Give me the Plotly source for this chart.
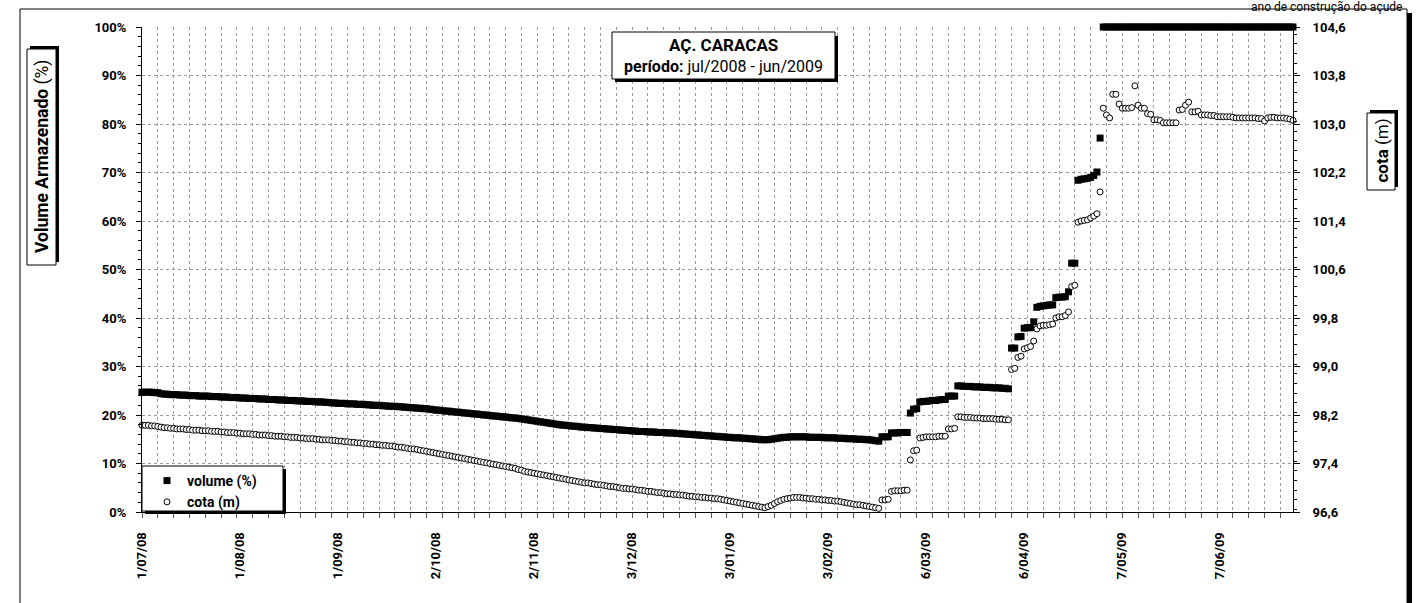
import pandas as pd
import plotly.graph_objects as go

# ── Data (one value per day) ─────────────────────────────────────────────────

dates = pd.date_range("2008-07-01", "2009-06-30", freq="D")

volume_pct = [
    # jul/08
    24.7, 24.7, 24.7, 24.7, 24.6, 24.6, 24.4, 24.3, 24.3, 24.2, 24.2, 24.2, 24.1, 24.1, 24.1, 24.0,
    24.0, 24.0, 23.9, 23.9, 23.9, 23.9, 23.8, 23.8, 23.8, 23.7, 23.7, 23.7, 23.6, 23.6, 23.6,
    # aug/08
    23.5, 23.5, 23.5, 23.4, 23.4, 23.4, 23.3, 23.3, 23.3, 23.2, 23.2, 23.2, 23.1, 23.1, 23.1, 23.0,
    23.0, 23.0, 22.9, 22.9, 22.9, 22.8, 22.8, 22.8, 22.7, 22.7, 22.7, 22.6, 22.6, 22.5, 22.5,
    # sep/08
    22.4, 22.4, 22.4, 22.3, 22.3, 22.3, 22.2, 22.2, 22.2, 22.1, 22.1, 22.0, 22.0, 22.0, 21.9,
    21.9, 21.8, 21.8, 21.8, 21.7, 21.7, 21.6, 21.6, 21.5, 21.5, 21.4, 21.4, 21.3, 21.3, 21.2,
    # oct/08
    21.1, 21.0, 21.0, 20.9, 20.8, 20.8, 20.7, 20.6, 20.6, 20.5, 20.4, 20.4, 20.3, 20.2, 20.2, 20.1,
    20.0, 20.0, 19.9, 19.8, 19.8, 19.7, 19.6, 19.6, 19.5, 19.4, 19.4, 19.3, 19.2, 19.1, 19.0,
    # nov/08
    18.9, 18.8, 18.7, 18.6, 18.5, 18.4, 18.3, 18.2, 18.1, 18.0, 17.9, 17.9, 17.8, 17.7, 17.7,
    17.6, 17.5, 17.5, 17.4, 17.4, 17.3, 17.3, 17.2, 17.2, 17.1, 17.1, 17.0, 17.0, 16.9, 16.9,
    # dec/08
    16.8, 16.8, 16.7, 16.7, 16.6, 16.6, 16.6, 16.5, 16.5, 16.5, 16.4, 16.4, 16.4, 16.3, 16.3, 16.3,
    16.2, 16.2, 16.1, 16.1, 16.0, 16.0, 15.9, 15.9, 15.8, 15.8, 15.7, 15.7, 15.6, 15.6, 15.5,
    # jan/09
    15.5, 15.4, 15.4, 15.3, 15.3, 15.3, 15.2, 15.2, 15.1, 15.1, 15.0, 15.0, 14.9, 14.9, 14.9, 15.0,
    15.1, 15.2, 15.3, 15.4, 15.4, 15.5, 15.5, 15.5, 15.5, 15.5, 15.5, 15.4, 15.4, 15.4, 15.4,
    # feb/09
    15.4, 15.3, 15.3, 15.3, 15.3, 15.2, 15.2, 15.2, 15.1, 15.1, 15.1, 15.0, 15.0, 15.0,
    14.9, 14.9, 14.8, 14.7, 14.6, 15.5, 15.5, 15.5, 16.3, 16.3, 16.3, 16.4, 16.4, 16.4,
    # mar/09
    20.4, 21.2, 21.3, 22.7, 22.8, 22.8, 22.9, 23.0, 23.0, 23.1, 23.2, 23.2, 23.9, 23.9, 23.9, 26.0,
    26.0, 25.9, 25.9, 25.9, 25.8, 25.8, 25.8, 25.7, 25.7, 25.7, 25.6, 25.6, 25.6, 25.5, 25.5,
    # apr/09
    25.4, 33.8, 33.8, 36.1, 36.2, 37.9, 38.0, 38.0, 39.2, 42.2, 42.4, 42.5, 42.6, 42.7, 42.7,
    44.2, 44.3, 44.3, 44.4, 45.4, 51.3, 51.3, 68.4, 68.6, 68.7, 68.8, 69.0, 69.4, 70.1, 77.1,
    # may/09
    100.0, 100.0, 100.0, 100.0, 100.0, 100.0, 100.0, 100.0, 100.0, 100.0, 100.0, 100.0, 100.0,
    100.0, 100.0, 100.0, 100.0, 100.0, 100.0, 100.0, 100.0, 100.0, 100.0, 100.0, 100.0, 100.0,
    100.0, 100.0, 100.0, 100.0, 100.0,
    # jun/09
    100.0, 100.0, 100.0, 100.0, 100.0, 100.0, 100.0, 100.0, 100.0, 100.0, 100.0, 100.0, 100.0,
    100.0, 100.0, 100.0, 100.0, 100.0, 100.0, 100.0, 100.0, 100.0, 100.0, 100.0, 100.0, 100.0,
    100.0, 100.0, 100.0, 100.0,
]

cota_m = [
    # jul/08
    98.03, 98.03, 98.03, 98.02, 98.02, 98.01, 98.00, 97.99, 97.99, 97.98, 97.98, 97.97, 97.97,
    97.97, 97.96, 97.96, 97.95, 97.95, 97.95, 97.94, 97.94, 97.94, 97.93, 97.93, 97.93, 97.92,
    97.92, 97.91, 97.91, 97.91, 97.90,
    # aug/08
    97.90, 97.89, 97.89, 97.89, 97.88, 97.88, 97.87, 97.87, 97.87, 97.86, 97.86, 97.85, 97.85,
    97.85, 97.84, 97.84, 97.83, 97.83, 97.83, 97.82, 97.82, 97.81, 97.81, 97.81, 97.80, 97.80,
    97.79, 97.79, 97.79, 97.78, 97.78,
    # sep/08
    97.77, 97.77, 97.76, 97.76, 97.75, 97.75, 97.74, 97.74, 97.73, 97.73, 97.72, 97.72, 97.71,
    97.71, 97.70, 97.70, 97.69, 97.69, 97.68, 97.67, 97.67, 97.66, 97.65, 97.64, 97.64, 97.63,
    97.62, 97.61, 97.60, 97.59,
    # oct/08
    97.58, 97.57, 97.56, 97.55, 97.54, 97.53, 97.52, 97.51, 97.50, 97.49, 97.48, 97.47, 97.46,
    97.45, 97.44, 97.43, 97.42, 97.41, 97.40, 97.39, 97.38, 97.37, 97.36, 97.35, 97.34, 97.33,
    97.32, 97.30, 97.29, 97.27, 97.26,
    # nov/08
    97.25, 97.24, 97.23, 97.22, 97.21, 97.20, 97.19, 97.18, 97.17, 97.16, 97.15, 97.14, 97.13,
    97.12, 97.11, 97.10, 97.09, 97.08, 97.08, 97.07, 97.06, 97.05, 97.05, 97.04, 97.03, 97.02,
    97.02, 97.01, 97.00, 96.99,
    # dec/08
    96.99, 96.98, 96.98, 96.97, 96.96, 96.96, 96.95, 96.94, 96.94, 96.93, 96.92, 96.92, 96.91,
    96.90, 96.90, 96.89, 96.89, 96.88, 96.88, 96.87, 96.86, 96.86, 96.85, 96.85, 96.84, 96.84,
    96.83, 96.83, 96.82, 96.82, 96.81,
    # jan/09
    96.80, 96.79, 96.78, 96.77, 96.76, 96.75, 96.74, 96.73, 96.72, 96.71, 96.70, 96.69, 96.68,
    96.67, 96.69, 96.71, 96.74, 96.77, 96.79, 96.81, 96.82, 96.83, 96.84, 96.84, 96.84, 96.83,
    96.83, 96.82, 96.82, 96.81, 96.81,
    # feb/09
    96.80, 96.80, 96.79, 96.79, 96.78, 96.78, 96.77, 96.76, 96.75, 96.74, 96.73, 96.72, 96.72,
    96.71, 96.70, 96.69, 96.68, 96.67, 96.66, 96.80, 96.80, 96.81, 96.94, 96.95, 96.95, 96.95,
    96.96, 96.96,
    # mar/09
    97.46, 97.61, 97.62, 97.82, 97.83, 97.84, 97.84, 97.84, 97.84, 97.85, 97.85, 97.85, 97.97,
    97.97, 97.98, 98.17, 98.17, 98.16, 98.16, 98.16, 98.15, 98.15, 98.15, 98.14, 98.14, 98.14,
    98.14, 98.13, 98.13, 98.13, 98.12,
    # apr/09
    98.12, 98.95, 98.97, 99.15, 99.17, 99.29, 99.31, 99.33, 99.42, 99.62, 99.67, 99.68, 99.68,
    99.69, 99.70, 99.80, 99.82, 99.82, 99.84, 99.90, 100.32, 100.34, 101.38, 101.40, 101.41,
    101.42, 101.45, 101.48, 101.52, 101.88,
    # may/09
    103.26, 103.15, 103.10, 103.49, 103.49, 103.33, 103.26, 103.26, 103.26, 103.27, 103.63,
    103.31, 103.26, 103.26, 103.17, 103.16, 103.07, 103.07, 103.06, 103.02, 103.02, 103.02,
    103.02, 103.02, 103.23, 103.24, 103.31, 103.36, 103.20, 103.20, 103.21,
    # jun/09
    103.15, 103.15, 103.15, 103.14, 103.14, 103.12, 103.12, 103.12, 103.12, 103.12, 103.11,
    103.10, 103.10, 103.10, 103.10, 103.10, 103.10, 103.10, 103.09, 103.09, 103.05, 103.10,
    103.11, 103.11, 103.10, 103.10, 103.10, 103.09, 103.08, 103.06,
]

tick_dates = ["2008-07-01", "2008-08-01", "2008-09-01", "2008-10-02", "2008-11-02", "2008-12-03",
              "2009-01-03", "2009-02-03", "2009-03-06", "2009-04-06", "2009-05-07", "2009-06-07"]
tick_text = ["1/07/08", "1/08/08", "1/09/08", "2/10/08", "2/11/08", "3/12/08",
             "3/01/09", "3/02/09", "6/03/09", "6/04/09", "7/05/09", "7/06/09"]

assert len(volume_pct) == len(dates) == len(cota_m)

# ── Look ──────────────────────────────────────────────────────────────────────

FONT = "Roboto, Arial, sans-serif"
GRID = "#9a9a9a"

# plot area in pixels (left, top, right, bottom)
L, T, R, B = 142, 27, 1293, 512


def fx(p):
    return (p - L) / (R - L)


def fy(p):
    return (B - p) / (B - T)


def rect(x0, y0, x1, y1, fill="white", width=1):
    return dict(type="rect", xref="paper", yref="paper",
                x0=fx(x0), x1=fx(x1), y0=fy(y1), y1=fy(y0),
                fillcolor=fill, line=dict(color="black", width=width))


shapes = [
    # outer chart frame with shadow on the right
    rect(20, 9, 1407, 640, fill="rgba(0,0,0,0)"),
    rect(1407, 13, 1412, 640, fill="black", width=0),
    # title box
    rect(615, 36, 838, 82, fill="black", width=0),
    rect(612, 32, 835, 79),
    # legend box
    rect(145, 469, 286, 514, fill="black", width=0),
    rect(142, 466, 283, 511),
    # axis title boxes (rotated, shadow goes up/right)
    rect(30, 46, 59, 262, fill="black", width=0),
    rect(27, 49, 56, 265),
    rect(1370, 110, 1398, 187, fill="black", width=0),
    rect(1367, 113, 1395, 190),
]

annotations = [
    dict(text="<b>AÇ. CARACAS</b>", x=fx(723.5), y=fy(45), font=dict(size=17)),
    dict(text="<b>período:</b> jul/2008 - jun/2009", x=fx(723.5), y=fy(66), font=dict(size=16)),
    dict(text="<b>Volume Armazenado</b> (%)", x=fx(42), y=fy(157), textangle=-90,
         font=dict(size=17.5)),
    dict(text="<b>cota</b> (m)", x=fx(1381.5), y=fy(151), textangle=-90, font=dict(size=17)),
]
for a in annotations:
    a.update(xref="paper", yref="paper", showarrow=False, xanchor="center", yanchor="middle")
    a["font"].update(color="black", family=FONT)

# note above the frame, top right
annotations.append(dict(
    text="ano de construção do açude", xref="paper", yref="paper",
    x=fx(1403), y=fy(-1), xanchor="right", yanchor="top", showarrow=False, borderpad=0,
    font=dict(size=12, color="black", family=FONT),
))

fig = go.Figure()
fig.add_trace(go.Scatter(
    x=dates, y=volume_pct, name="volume (%)", mode="markers",
    marker=dict(symbol="square", size=7, color="black"),
    cliponaxis=False,
))
fig.add_trace(go.Scatter(
    x=dates, y=cota_m, name="cota (m)", mode="markers", yaxis="y2",
    marker=dict(symbol="circle", size=6, color="white", line=dict(color="black", width=1)),
    cliponaxis=False,
))

fig.update_layout(
    width=1423, height=603,
    margin=dict(l=L, r=1423 - R, t=T, b=603 - B),
    paper_bgcolor="white", plot_bgcolor="white",
    font=dict(family=FONT, color="black", size=13),
    separators=",.",
    shapes=shapes,
    annotations=annotations,
    showlegend=True,
    legend=dict(
        x=fx(147), y=fy(465), xanchor="left", yanchor="top",
        bgcolor="rgba(0,0,0,0)", borderwidth=0,
        font=dict(size=14, family=FONT, color="black", weight="bold"),
        tracegroupgap=0,
    ),
    xaxis=dict(
        type="date",
        range=["2008-07-01", "2009-06-30"],
        tickvals=tick_dates, ticktext=tick_text,
        tickangle=-90,
        ticks="outside", ticklen=5, tickcolor="rgba(0,0,0,0)",
        ticklabelstandoff=9,
        tickfont=dict(size=13, weight="bold"),
        showgrid=False,
        showline=True, linecolor="black", linewidth=1,
        zeroline=False,
        minor=dict(dtick=5 * 86400000, tick0="2008-07-01", ticks="outside", ticklen=5,
                   tickcolor="#555555", showgrid=True, gridcolor=GRID, griddash="dot",
                   gridwidth=1),
    ),
    yaxis=dict(
        range=[0, 100], dtick=10, tick0=0, ticksuffix="%",
        ticks="outside", ticklen=5, tickcolor="black",
        ticklabelstandoff=7,
        tickfont=dict(size=13, weight="bold"),
        showgrid=True, gridcolor=GRID, griddash="dot", gridwidth=1,
        showline=True, linecolor="black", linewidth=1,
        zeroline=False,
        minor=dict(dtick=2, ticks="outside", ticklen=3, tickcolor="black", showgrid=False),
    ),
    yaxis2=dict(
        overlaying="y", side="right", anchor="x",
        range=[96.6, 104.6], dtick=0.8, tick0=96.6, tickformat=".1f",
        ticks="outside", ticklen=6, tickcolor="black",
        ticklabelstandoff=10,
        tickfont=dict(size=13, weight="bold"),
        showgrid=False,
        showline=True, linecolor="black", linewidth=1,
        zeroline=False,
        minor=dict(dtick=0.16, ticks="outside", ticklen=3, tickcolor="black", showgrid=False),
    ),
)

fig.write_html("out.html", config={"displayModeBar": False},
               post_script="document.body.style.margin='0px';")
